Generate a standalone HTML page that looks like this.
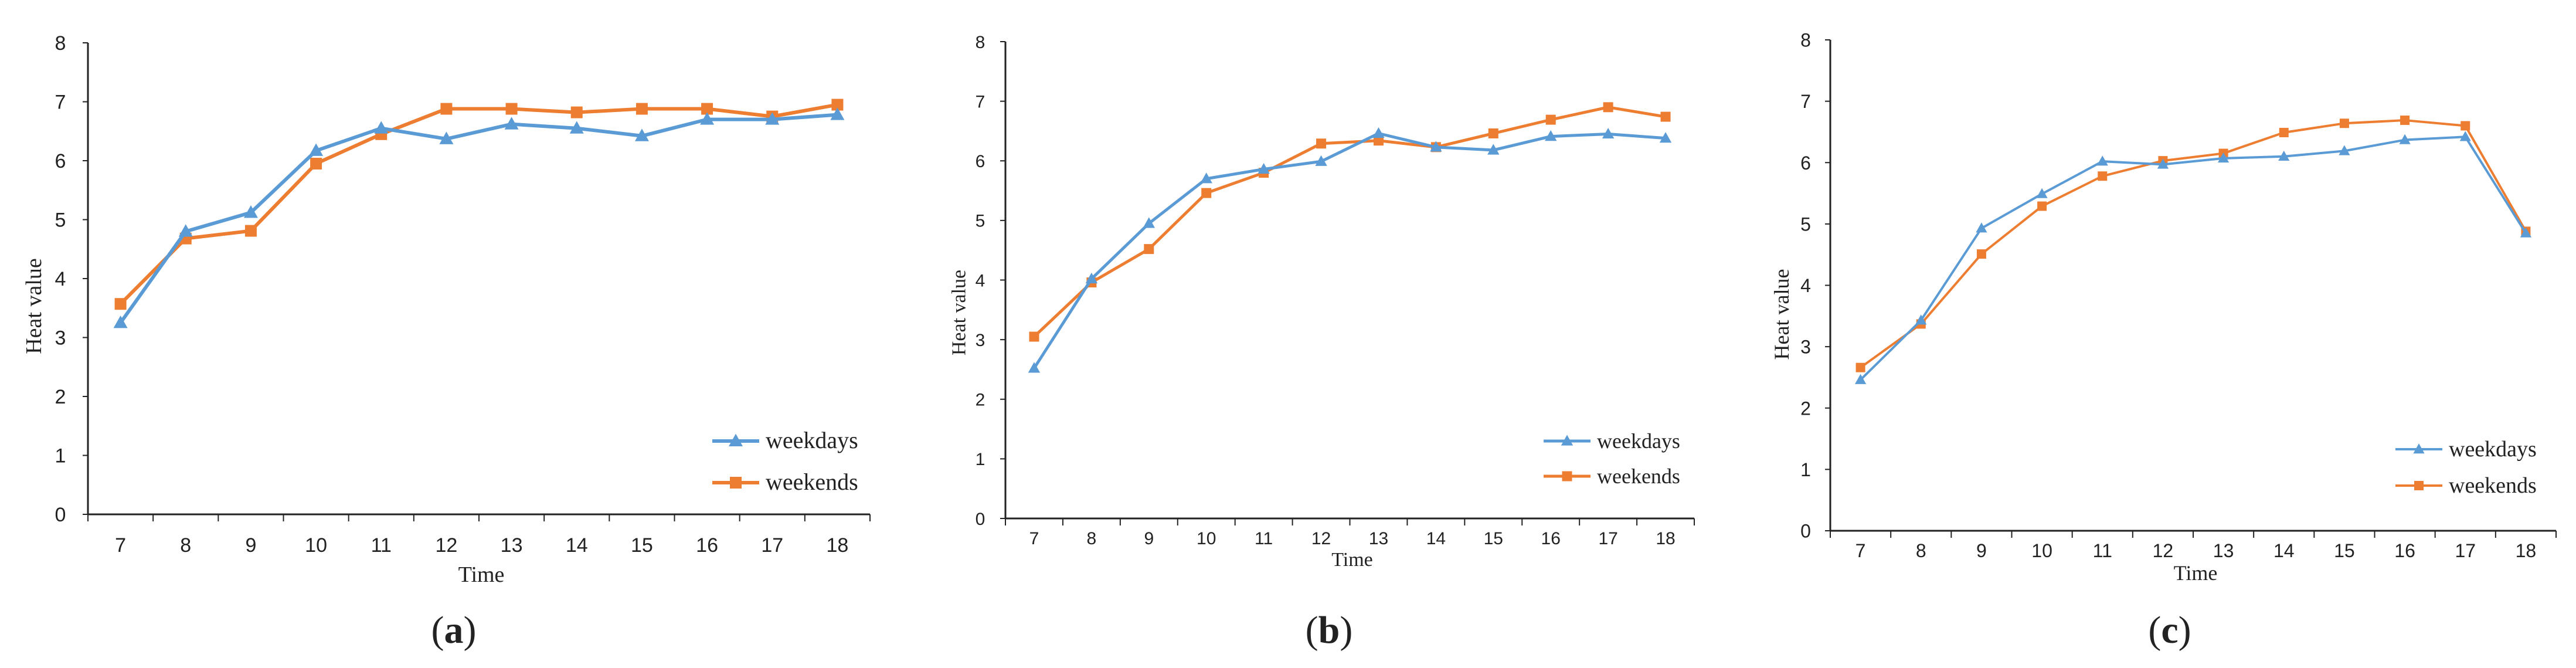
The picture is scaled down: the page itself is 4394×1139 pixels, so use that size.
<!DOCTYPE html>
<html><head><meta charset="utf-8"><style>
body{margin:0;background:#fff;}
svg{display:block;}
text{font-family:"Liberation Sans",sans-serif;fill:#222;}
.serif{font-family:"Liberation Serif",serif;}
</style></head><body>
<svg id="fig" width="4394" height="1139" viewBox="0 0 4394 1139" xmlns="http://www.w3.org/2000/svg"></svg>
<script>
const categories = ["7","8","9","10","11","12","13","14","15","16","17","18"];
const yTicks = [0,1,2,3,4,5,6,7,8];
const aWeekdays = [3.25,4.8,5.12,6.17,6.55,6.37,6.62,6.55,6.42,6.7,6.7,6.78];
const aWeekends = [3.57,4.68,4.81,5.95,6.45,6.88,6.88,6.82,6.88,6.88,6.75,6.95];
const bWeekdays = [2.52,4.02,4.95,5.70,5.86,5.99,6.46,6.23,6.18,6.41,6.45,6.38];
const bWeekends = [3.05,3.96,4.52,5.46,5.80,6.29,6.34,6.23,6.46,6.69,6.90,6.74];
const cWeekdays = [2.46,3.43,4.93,5.49,6.02,5.97,6.07,6.10,6.19,6.37,6.42,4.85];
const cWeekends = [2.66,3.37,4.51,5.29,5.78,6.03,6.15,6.49,6.64,6.69,6.60,4.88];
const panelLabels = ["a","b","c"];

const NS="http://www.w3.org/2000/svg";
const svg=document.getElementById('fig');
function mk(tag,attrs,parent){const e=document.createElementNS(NS,tag);for(const k in attrs)e.setAttribute(k,attrs[k]);(parent||svg).appendChild(e);return e;}

const panels=[
 {L:150,R:1484,Y0:877,Y8:73,lw:6,ms:20,fs:34,tickOff:64,tickLx:103,ytx:58,yty:522,timeY:992,legX:1215,legY1:752,legY2:823,cap:774,wd:aWeekdays,we:aWeekends},
 {L:1715,R:2890,Y0:884,Y8:71,lw:5,ms:17,fs:30,tickOff:44,tickLx:1672,ytx:1636,yty:533,timeY:965,legX:2633,legY1:752,legY2:812,cap:2267,wd:bWeekdays,we:bWeekends},
 {L:3122,R:4360,Y0:905,Y8:68,lw:4,ms:16,fs:32,tickOff:45,tickLx:3080,ytx:3039,yty:536,timeY:989,legX:4086,legY1:766,legY2:828,cap:3701,wd:cWeekdays,we:cWeekends}
];
const BLUE="#5b9bd5", ORANGE="#ed7d31";

function tri(g,x,y,s,col){return mk('polygon',{points:`${x},${y-s*0.62} ${x-s*0.6},${y+s*0.45} ${x+s*0.6},${y+s*0.45}`,fill:col},g);}
function sq(g,x,y,s,col){return mk('rect',{x:x-s/2,y:y-s/2,width:s,height:s,fill:col},g);}

panels.forEach((p,pi)=>{
  const g=mk('g',{});
  
  
  const band=(p.R-p.L)/categories.length;
  const xs=i=>p.L+band*(i+0.5);
  const ys=v=>p.Y0-(p.Y0-p.Y8)*v/8;
  const ya=mk('line',{x1:p.L,y1:p.Y8,x2:p.L,y2:p.Y0,stroke:'#222','stroke-width':3},g);
  
  
  const xa=mk('line',{x1:p.L,y1:p.Y0,x2:p.R,y2:p.Y0,stroke:'#222','stroke-width':3},g);
  
  
  yTicks.forEach(t=>{
    mk('line',{x1:p.L-9,y1:ys(t),x2:p.L,y2:ys(t),stroke:'#222','stroke-width':2},g);
    const tx=mk('text',{x:p.tickLx,y:ys(t)+p.fs*0.36,'text-anchor':'middle','font-size':p.fs},g);
    tx.textContent=t;
    
    
  });
  for(let i=0;i<=categories.length;i++){
    mk('line',{x1:p.L+band*i,y1:p.Y0,x2:p.L+band*i,y2:p.Y0+12,stroke:'#222','stroke-width':2},g);
  }
  categories.forEach((c,i)=>{
    const tx=mk('text',{x:xs(i),y:p.Y0+p.tickOff,'text-anchor':'middle','font-size':p.fs},g);
    tx.textContent=c;
    
    
  });
  const xt=mk('text',{x:(p.L+p.R)/2+4,y:p.timeY,'text-anchor':'middle','font-size':p.fs+4,class:'serif'},g);
  xt.textContent='Time';
  
  
  const yt=mk('text',{x:p.ytx,y:p.yty,'text-anchor':'middle','font-size':p.fs+4,class:'serif',transform:`rotate(-90 ${p.ytx} ${p.yty})`,'dominant-baseline':'central'},g);
  yt.textContent='Heat value';
  
  
  [[p.we,ORANGE,'weekends',sq],[p.wd,BLUE,'weekdays',tri]].forEach(([vals,col,name,mf])=>{
    const pl=mk('polyline',{points:vals.map((v,i)=>xs(i)+','+ys(v)).join(' '),fill:'none',stroke:col,'stroke-width':p.lw,'stroke-linejoin':'round'},g);
    
    
    vals.forEach((v,i)=>{
      const m=mf(g,xs(i),ys(v),p.ms,col);
      
      
    });
  });
  [[p.legY1,BLUE,'weekdays',tri],[p.legY2,ORANGE,'weekends',sq]].forEach(([ly,col,name,mf])=>{
    const lg=mk('g',{},g);
    
    
    mk('line',{x1:p.legX,y1:ly,x2:p.legX+80,y2:ly,stroke:col,'stroke-width':p.lw},lg);
    mf(lg,p.legX+40,ly,p.ms,col);
    const tx=mk('text',{x:p.legX+91,y:ly+12,'font-size':p.fs+6,class:'serif'},lg);
    tx.textContent=name;
  });
  const cp=mk('text',{x:p.cap,y:1096,'text-anchor':'middle','font-size':66,class:'serif'},g);
  cp.innerHTML='(<tspan font-weight="bold">'+panelLabels[pi]+'</tspan>)';
  
  
});
</script>
</body></html>
